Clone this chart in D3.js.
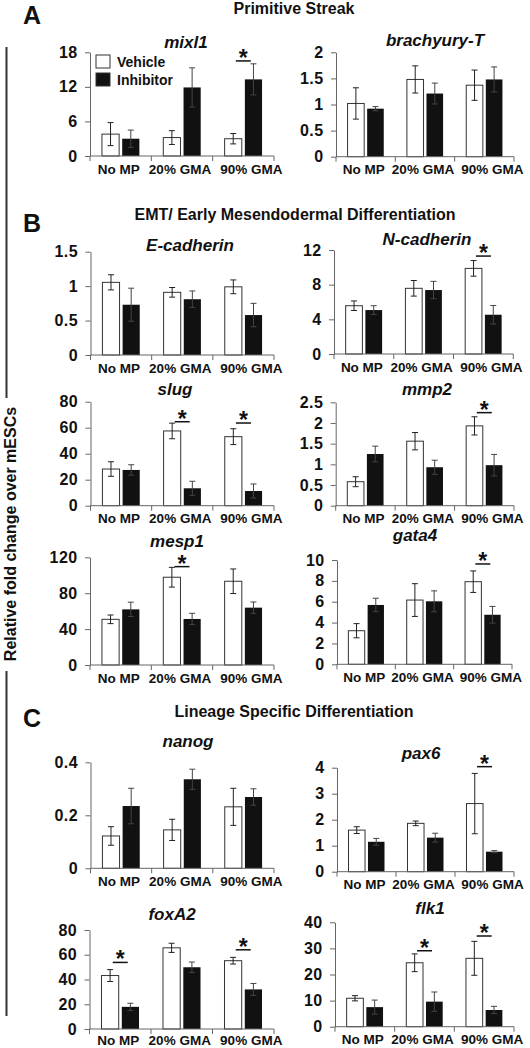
<!DOCTYPE html>
<html>
<head>
<meta charset="utf-8">
<script src="https://cdn.jsdelivr.net/npm/d3@7"></script>
<style>
  html, body { margin: 0; padding: 0; background: #fff; }
  svg { display: block; }
  text { font-family: "Liberation Sans", Arial, Helvetica, sans-serif; font-weight: bold; fill: #111; }
</style>
</head>
<body>
<svg id="chart" width="530" height="1048"></svg>
<script>
// ---------------- DATA ----------------
const categories = ["No MP", "20% GMA", "90% GMA"];
const seriesNames = ["Vehicle", "Inhibitor"];
const genes = ["mixl1", "brachyury-T", "E-cadherin", "N-cadherin", "slug", "mmp2",
               "mesp1", "gata4", "nanog", "pax6", "foxA2", "flk1"];

const vehicleMean = [
  [3.8, 3.2, 3.0],
  [1.02, 1.48, 1.37],
  [1.055, 0.91, 0.99],
  [5.57, 7.58, 9.88],
  [28.2, 57.5, 53.1],
  [0.58, 1.56, 1.93],
  [50.9, 97.8, 93.3],
  [3.22, 6.16, 7.92],
  [0.122, 0.145, 0.232],
  [1.60, 1.86, 2.62],
  [43.2, 65.6, 55.2],
  [10.9, 24.5, 26.2]
];
const vehicleErr = [
  [2.0, 1.2, 0.9],
  [0.30, 0.26, 0.29],
  [0.11, 0.07, 0.10],
  [0.55, 0.9, 0.9],
  [5.6, 6.0, 6.1],
  [0.12, 0.21, 0.22],
  [4.8, 11.0, 13.7],
  [0.68, 1.57, 1.03],
  [0.035, 0.04, 0.07],
  [0.13, 0.09, 1.16],
  [4.8, 3.7, 2.7],
  [1.0, 3.4, 6.5]
];
const inhibitorMean = [
  [3.0, 11.9, 13.3],
  [0.92, 1.21, 1.48],
  [0.73, 0.81, 0.58],
  [5.07, 7.38, 4.53],
  [27.5, 13.4, 11.3],
  [1.25, 0.93, 0.98],
  [62.0, 51.3, 63.9],
  [5.69, 6.04, 4.75],
  [0.235, 0.336, 0.269],
  [1.15, 1.31, 0.77],
  [17.9, 49.9, 32.0],
  [7.5, 9.6, 6.4]
];
const inhibitorErr = [
  [1.5, 3.4, 2.7],
  [0.04, 0.20, 0.24],
  [0.24, 0.12, 0.17],
  [0.5, 1.0, 1.07],
  [4.0, 5.4, 5.4],
  [0.19, 0.17, 0.26],
  [8.0, 6.3, 6.3],
  [0.64, 1.0, 0.8],
  [0.067, 0.038, 0.031],
  [0.13, 0.17, 0.04],
  [2.9, 4.2, 4.8],
  [2.7, 3.7, 1.4]
];
const yTickValues = [
  [0, 6, 12, 18],
  [0, 0.5, 1, 1.5, 2],
  [0, 0.5, 1, 1.5],
  [0, 4, 8, 12],
  [0, 20, 40, 60, 80],
  [0, 0.5, 1, 1.5, 2, 2.5],
  [0, 40, 80, 120],
  [0, 2, 4, 6, 8, 10],
  [0, 0.2, 0.4],
  [0, 1, 2, 3, 4],
  [0, 20, 40, 60, 80],
  [0, 10, 20, 30, 40]
];
// significance: [category index, bar level in data units]
const significance = [
  [[2, 16.5]],
  [],
  [],
  [[2, 11.3]],
  [[1, 64.6], [2, 63.6]],
  [[2, 2.25]],
  [[1, 109.6]],
  [[2, 9.62]],
  [],
  [[2, 4.04]],
  [[0, 53.8], [2, 64]],
  [[1, 29.1], [2, 34.75]]
];
const sectionTitles = ["Primitive Streak", "EMT/ Early Mesendodermal Differentiation", "Lineage Specific Differentiation"];
const sectionLetters = ["A", "B", "C"];
const yAxisTitle = "Relative fold change over mESCs";

// ---------------- LAYOUT (pixels) ----------------
// [x0, x1, yTop, yZero, titleX, titleBaseline]
const layout = [
  [90, 274, 52.3, 156, 186, 48],
  [336, 514, 52.3, 156.7, 435, 46],
  [90.5, 274, 251.7, 355, 190, 251],
  [334, 513.3, 250, 354, 427, 245],
  [90.5, 274, 401.7, 505.7, 175, 395],
  [335.7, 514, 402.3, 505.7, 427, 395],
  [90, 274, 557.3, 665, 177, 547],
  [337, 512, 560, 664.3, 415, 541],
  [90.5, 274, 762.3, 868.3, 188, 747],
  [337, 514, 767.7, 871.7, 421, 759],
  [89.5, 274, 930, 1029, 172, 920],
  [335, 514, 922.3, 1026.7, 430, 914]
];
const labelShift = [-2, -2, 8];
const sectionPos = [[294, 14, 23, 24], [295, 219.5, 23, 232], [294, 716.5, 23, 727]];

const svg = d3.select("#chart");
const AXIS = "#666";

// section headers
sectionTitles.forEach((t, i) => {
  svg.append("text").attr("x", sectionPos[i][0]).attr("y", sectionPos[i][1])
    .attr("text-anchor", "middle").attr("font-size", 16).text(t);
  svg.append("text").attr("x", sectionPos[i][2]).attr("y", sectionPos[i][3])
    .attr("font-size", 25).text(sectionLetters[i]);
});

// y axis title with side line
svg.append("line").attr("x1", 6.5).attr("x2", 6.5).attr("y1", 47).attr("y2", 398)
  .attr("stroke", "#333").attr("stroke-width", 2);
svg.append("line").attr("x1", 6.5).attr("x2", 6.5).attr("y1", 671).attr("y2", 1016)
  .attr("stroke", "#333").attr("stroke-width", 2);
svg.append("text").attr("transform", "translate(15.5,534) rotate(-90)")
  .attr("text-anchor", "middle").attr("font-size", 16).text(yAxisTitle);

genes.forEach((gene, gi) => {
  const [x0, x1, yTop, yZero, tx, ty] = layout[gi];
  const ticks = yTickValues[gi];
  const yMax = ticks[ticks.length - 1];
  const y = d3.scaleLinear().domain([0, yMax]).range([yZero, yTop]);
  const x = d3.scaleBand().domain(categories).range([x0, x1]);
  const bw = x.bandwidth();
  const barW = bw * 0.28, gap = bw * 0.05;
  const g = svg.append("g");

  // title
  g.append("text").attr("x", tx).attr("y", ty).attr("text-anchor", "middle")
    .attr("font-size", 17).attr("font-style", "italic").text(gene);

  // bars
  const rows = categories.map((c, ci) => ({
    c, ci,
    v: vehicleMean[gi][ci], ve: vehicleErr[gi][ci],
    h: inhibitorMean[gi][ci], he: inhibitorErr[gi][ci]
  }));
  rows.forEach(r => {
    const cx = x(r.c) + bw / 2;
    const vx = cx - gap / 2 - barW;
    const hx = cx + gap / 2;
    g.append("rect").attr("x", vx).attr("y", y(r.v)).attr("width", barW)
      .attr("height", yZero - y(r.v)).attr("fill", "#fff").attr("stroke", "#333").attr("stroke-width", 1);
    g.append("rect").attr("x", hx).attr("y", y(r.h)).attr("width", barW)
      .attr("height", yZero - y(r.h)).attr("fill", "#111");
    [[vx + barW / 2, r.v, r.ve, "#222"], [hx + barW / 2, r.h, r.he, "#444"]].forEach(([ex, m, e, col]) => {
      g.append("line").attr("x1", ex).attr("x2", ex).attr("y1", y(m + e)).attr("y2", y(Math.max(0, m - e)))
        .attr("stroke", col).attr("stroke-width", 1);
      [m + e, m - e].forEach(vv => {
        g.append("line").attr("x1", ex - 3).attr("x2", ex + 3).attr("y1", y(vv)).attr("y2", y(vv))
          .attr("stroke", col).attr("stroke-width", 1);
      });
    });
  });

  // y axis
  const yAxis = d3.axisLeft(y).tickValues(ticks).tickSize(5).tickSizeOuter(0).tickPadding(7.5)
    .tickFormat(d3.format("~g"));
  const ya = g.append("g").attr("transform", `translate(${x0},0)`).call(yAxis);
  ya.select(".domain").attr("stroke", AXIS);
  ya.selectAll(".tick line").attr("stroke", AXIS);
  ya.selectAll(".tick text").attr("font-size", 16).attr("font-family", null).attr("fill", "#111")
    .attr("letter-spacing", 0.4);

  // x axis
  g.append("line").attr("x1", x0).attr("x2", x1).attr("y1", yZero).attr("y2", yZero).attr("stroke", AXIS);
  const bounds = categories.map(c => x(c)).concat([x1]);
  bounds.forEach(b => {
    g.append("line").attr("x1", b).attr("x2", b).attr("y1", yZero).attr("y2", yZero + 5).attr("stroke", AXIS);
  });
  categories.forEach((c, ci) => {
    g.append("text").attr("x", x(c) + bw / 2 + labelShift[ci]).attr("y", Math.min(yZero + 17.5, 1044.5))
      .attr("text-anchor", "middle").attr("font-size", 13.5).text(c);
  });

  // significance
  significance[gi].forEach(([ci, lvl]) => {
    const cx = x(categories[ci]) + bw / 2;
    const ly = y(lvl);
    g.append("line").attr("x1", cx - 7.5).attr("x2", cx + 7.5).attr("y1", ly).attr("y2", ly)
      .attr("stroke", "#111").attr("stroke-width", 1.5);
    g.append("text").attr("x", cx).attr("y", ly + 5).attr("text-anchor", "middle")
      .attr("font-size", 23).text("*");
  });

  // legend (first panel only)
  if (gi === 0) {
    const lx = 96, ly0 = 55;
    seriesNames.forEach((s, si) => {
      const yy = ly0 + si * 18;
      g.append("rect").attr("x", lx).attr("y", yy).attr("width", 14).attr("height", 13)
        .attr("fill", si === 0 ? "#fff" : "#111").attr("stroke", "#333");
      g.append("text").attr("x", lx + 21).attr("y", yy + 11.5).attr("font-size", 14).text(s);
    });
  }
});
</script>
</body>
</html>
